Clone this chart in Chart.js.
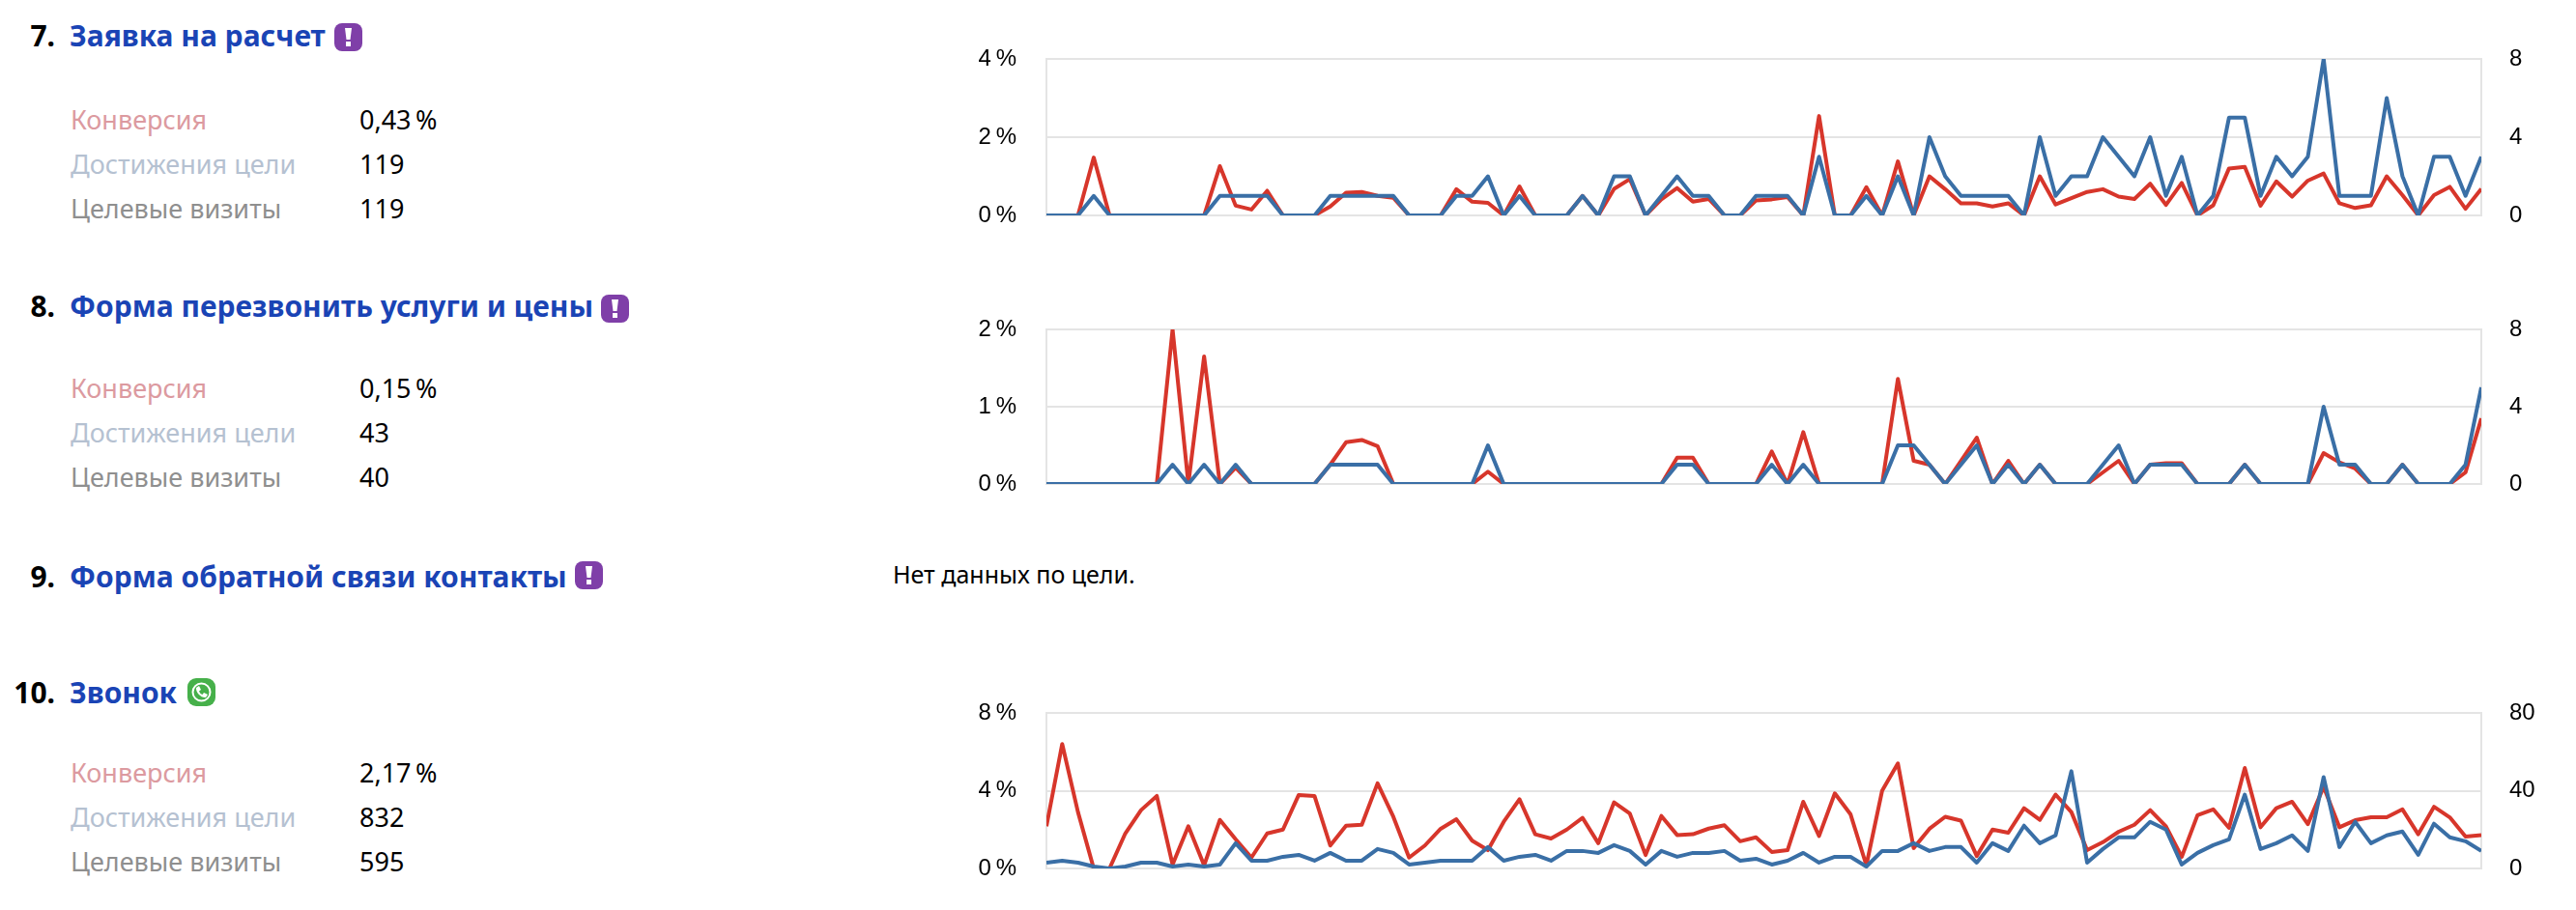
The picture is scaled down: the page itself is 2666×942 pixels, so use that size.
<!DOCTYPE html>
<html lang="ru">
<head>
<meta charset="utf-8">
<title>Цели</title>
<script src="https://cdn.jsdelivr.net/npm/chart.js@4"></script>
<style>
  html, body { margin: 0; background: #fff; }
  body { position: relative; width: 2666px; height: 942px; overflow: hidden; font-family: "Noto Sans", sans-serif; }
  .abs { position: absolute; white-space: nowrap; line-height: 40px; }
  .num { font-size: 30px; font-weight: 700; color: #000; width: 60px; text-align: right; left: -3px; }
  .title { font-size: 30px; font-weight: 700; color: #1a44b5; left: 72px; }
  .lbl { font-size: 27px; left: 73px; }
  .val { font-size: 27px; left: 372px; color: #000; }
  .conv { color: #dc9aa0; }
  .goal { color: #b5c1d1; }
  .vis { color: #8f8f8f; }
  .icon { position: absolute; width: 29px; height: 29px; }
  canvas { position: absolute; left: 1000px; }
</style>
</head>
<body>

<div class="abs num" style="top:17px">7.</div>
<div class="abs title" style="top:17px">Заявка на расчет</div>
<svg class="icon" style="left:346px;top:24px" viewBox="0 0 29 29"><rect width="29" height="29" rx="8" fill="#7f3fa8"/><path d="M11 5h7l-1.500 12h-4z" fill="#fff"/><rect x="12" y="19" width="5" height="5" fill="#fff"/></svg>
<div class="abs lbl conv" style="top:104px">Конверсия</div><div class="abs val" style="top:104px">0,43&#8201;%</div>
<div class="abs lbl goal" style="top:150px">Достижения цели</div><div class="abs val" style="top:150px">119</div>
<div class="abs lbl vis" style="top:196px">Целевые визиты</div><div class="abs val" style="top:196px">119</div>

<div class="abs num" style="top:297px">8.</div>
<div class="abs title" style="top:297px">Форма перезвонить услуги и цены</div>
<svg class="icon" style="left:622px;top:305px" viewBox="0 0 29 29"><rect width="29" height="29" rx="8" fill="#7f3fa8"/><path d="M11 5h7l-1.500 12h-4z" fill="#fff"/><rect x="12" y="19" width="5" height="5" fill="#fff"/></svg>
<div class="abs lbl conv" style="top:382px">Конверсия</div><div class="abs val" style="top:382px">0,15&#8201;%</div>
<div class="abs lbl goal" style="top:428px">Достижения цели</div><div class="abs val" style="top:428px">43</div>
<div class="abs lbl vis" style="top:474px">Целевые визиты</div><div class="abs val" style="top:474px">40</div>

<div class="abs num" style="top:577px">9.</div>
<div class="abs title" style="top:577px">Форма обратной связи контакты</div>
<svg class="icon" style="left:595px;top:581px" viewBox="0 0 29 29"><rect width="29" height="29" rx="8" fill="#7f3fa8"/><path d="M11 5h7l-1.500 12h-4z" fill="#fff"/><rect x="12" y="19" width="5" height="5" fill="#fff"/></svg>
<div class="abs" style="left:924px;top:574px;font-size:25px;color:#000">Нет данных по цели.</div>

<div class="abs num" style="top:697px">10.</div>
<div class="abs title" style="top:697px">Звонок</div>
<svg class="icon" style="left:194px;top:702px" viewBox="0 0 29 29"><rect width="29" height="29" rx="9" fill="#46b04a"/><circle cx="14.5" cy="14.5" r="9" fill="none" stroke="#fff" stroke-width="2"/><path d="M9 10l3-2 2 4-2 1.500c.8 2 2 3.200 3.500 3.500L17 15l4 2-2 3c-5 .5-10.500-5-10-10z" fill="#fff"/></svg>
<div class="abs lbl conv" style="top:780px">Конверсия</div><div class="abs val" style="top:780px">2,17&#8201;%</div>
<div class="abs lbl goal" style="top:826px">Достижения цели</div><div class="abs val" style="top:826px">832</div>
<div class="abs lbl vis" style="top:872px">Целевые визиты</div><div class="abs val" style="top:872px">595</div>

<canvas id="goal7" width="1640" height="262" style="top:11px"></canvas>
<canvas id="goal8" width="1640" height="260" style="top:291px"></canvas>
<canvas id="goal10" width="1640" height="261" style="top:688px"></canvas>

<script>
const days = Array.from({ length: 92 }, (_, i) => i + 1);

// Заявка на расчет
const conversion7 = [0,0,0,1.48,0,0,0,0,0,0,0,1.26,0.25,0.15,0.63,0,0,0,0.23,0.58,0.6,0.5,0.45,0,0,0,0.67,0.35,0.32,0,0.74,0,0,0,0.5,0,0.68,0.93,0,0.41,0.7,0.35,0.42,0,0,0.38,0.41,0.47,0,2.54,0,0,0.72,0,1.38,0,1,0.67,0.31,0.31,0.23,0.31,0,1,0.28,0.44,0.6,0.67,0.48,0.42,0.81,0.27,0.83,0,0.26,1.2,1.24,0.25,0.87,0.48,0.89,1.07,0.31,0.19,0.26,1,0.52,0,0.52,0.73,0.17,0.68];
const goals7 = [0,0,0,1,0,0,0,0,0,0,0,1,1,1,1,0,0,0,1,1,1,1,1,0,0,0,1,1,2,0,1,0,0,0,1,0,2,2,0,1,2,1,1,0,0,1,1,1,0,3,0,0,1,0,2,0,4,2,1,1,1,1,0,4,1,2,2,4,3,2,4,1,3,0,1,5,5,1,3,2,3,8,1,1,1,6,2,0,3,3,1,3];

// Форма перезвонить услуги и цены
const conversion8 = [0,0,0,0,0,0,0,0,2,0,1.65,0,0.21,0,0,0,0,0,0.25,0.54,0.57,0.49,0,0,0,0,0,0,0.16,0,0,0,0,0,0,0,0,0,0,0,0.34,0.34,0,0,0,0,0.42,0,0.67,0,0,0,0,0,1.36,0.3,0.25,0,0.3,0.6,0,0.3,0,0.25,0,0,0,0.15,0.3,0,0.25,0.27,0.27,0,0,0,0.25,0,0,0,0,0.4,0.28,0.2,0,0,0.25,0,0,0,0.15,0.85];
const goals8 = [0,0,0,0,0,0,0,0,1,0,1,0,1,0,0,0,0,0,1,1,1,1,0,0,0,0,0,0,2,0,0,0,0,0,0,0,0,0,0,0,1,1,0,0,0,0,1,0,1,0,0,0,0,0,2,2,1,0,1,2,0,1,0,1,0,0,0,1,2,0,1,1,1,0,0,0,1,0,0,0,0,4,1,1,0,0,1,0,0,0,1,5];

// Звонок
const conversion10 = [2.17,6.4,2.9,0,0,1.8,3,3.73,0.2,2.17,0.16,2.5,1.5,0.56,1.8,2,3.78,3.73,1.18,2.2,2.25,4.38,2.66,0.56,1.18,2.04,2.53,1.43,0.94,2.4,3.56,1.76,1.54,2,2.6,1.3,3.4,2.82,0.69,2.7,1.72,1.76,2.05,2.22,1.4,1.6,0.85,0.94,3.43,1.67,3.86,2.78,0.16,4,5.4,1.05,2.04,2.66,2.46,0.64,2,1.84,3.1,2.5,3.8,2.9,0.94,1.35,1.89,2.25,3,2.17,0.6,2.74,3.04,2.09,5.17,2.12,3.1,3.43,2.28,4.2,2.12,2.48,2.63,2.63,3.04,1.76,3.17,2.63,1.64,1.72];
const goals10 = [3,4,3,1,0,1,3,3,1,2,1,2,13,4,4,6,7,4,8,4,4,10,8,2,3,4,4,4,11,4,6,7,4,9,9,8,12,9,2,9,6,8,8,9,4,5,2,4,8,3,6,6,1,9,9,13,9,11,11,3,13,9,22,13,17,50,3,10,16,16,24,20,2,8,12,15,38,10,13,17,9,47,11,24,13,17,19,7,23,16,14,9];

const red = "#d7362b";
const blue = "#3a6fa6";
const lineGray = "#e4e4e4";

function drawGoal(id, conversion, goals, leftMax, rightMax) {
  new Chart(document.getElementById(id), {
    type: "line",
    data: {
      labels: days,
      datasets: [
        // first dataset is painted on top
        { data: goals, yAxisID: "right", borderColor: blue },
        { data: conversion, yAxisID: "left", borderColor: red },
      ],
    },
    options: {
      responsive: false,
      animation: false,
      // big enough that tick padding does not eat into the plot height
      layout: { padding: { top: 50, bottom: 50 } },
      plugins: { legend: { display: false }, tooltip: { enabled: false } },
      datasets: { line: { clip: 0 } },
      elements: {
        point: { radius: 0 },
        line: { borderWidth: 4, tension: 0, borderJoinStyle: "round" },
      },
      scales: {
        x: { display: false },
        left: {
          position: "left",
          min: 0,
          max: leftMax,
          afterFit: (scale) => { scale.width = 83; },
          border: { color: lineGray, width: 2 },
          grid: { color: lineGray, lineWidth: 2, drawTicks: false },
          ticks: {
            stepSize: leftMax / 2,
            padding: 31,
            color: "#000",
            font: { family: "Liberation Sans", size: 24 },
            callback: (v) => v + "\u2009%",
          },
        },
        right: {
          position: "right",
          min: 0,
          max: rightMax,
          afterFit: (scale) => { scale.width = 72; },
          border: { color: lineGray, width: 2 },
          grid: { display: false, drawTicks: false },
          ticks: {
            stepSize: rightMax / 2,
            padding: 29,
            color: "#000",
            font: { family: "Liberation Sans", size: 24 },
          },
        },
      },
    },
  });
}

drawGoal("goal7", conversion7, goals7, 4, 8);
drawGoal("goal8", conversion8, goals8, 2, 8);
drawGoal("goal10", conversion10, goals10, 8, 80);
</script>
</body>
</html>
